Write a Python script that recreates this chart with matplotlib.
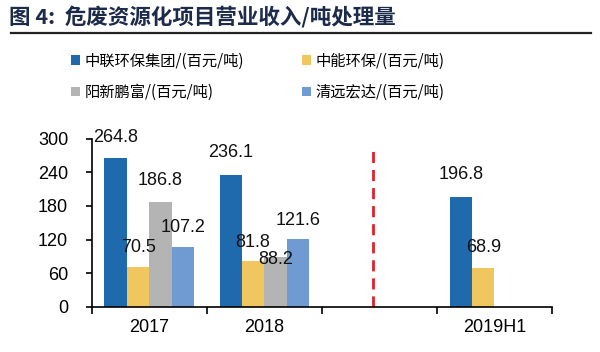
import numpy as np
import matplotlib
matplotlib.use("Agg")
import matplotlib.pyplot as plt

plt.rcParams['font.family'] = ['Noto Sans CJK SC', 'DejaVu Sans']

# data
categories = ['2017', '2018', '', '2019H1']
zhonglian = [264.8, 236.1, np.nan, 196.8]   # 中联环保集团
zhongneng = [70.5, 81.8, np.nan, 68.9]      # 中能环保
yangxin = [186.8, 88.2, np.nan, np.nan]     # 阳新鹏富
qingyuan = [107.2, 121.6, np.nan, np.nan]   # 清远宏达
series_names = ['中联环保集团/(百元/吨)', '中能环保/(百元/吨)',
                '阳新鹏富/(百元/吨)', '清远宏达/(百元/吨)']
yticks = [0, 60, 120, 180, 240, 300]

colors = ['#1f69ad', '#f0c75e', '#b4b4b4', '#6f9bd2']
# vertical label offsets in pixels so the numbers sit like the original
label_dy = [
    [21, 22, None, 22],
    [20, 19, None, 21],
    [22, -2, None, None],
    [19, 18, None, None],
]
num_font = 'Liberation Sans'

fig = plt.figure(figsize=(6, 3.52), dpi=100)
ax = fig.add_axes([0.153, 0.128, 0.767, 0.478])

x = np.arange(len(categories))
width = 0.195
all_series = [zhonglian, zhongneng, yangxin, qingyuan]
for i, vals in enumerate(all_series):
    pos = x + (i - 1.5) * width
    ax.bar(pos, vals, width, color=colors[i], label=series_names[i])
    for j, v in enumerate(vals):
        if np.isnan(v):
            continue
        ax.annotate(f'{v:.1f}', (pos[j], v), xytext=(0, label_dy[i][j] * 0.72),
                    textcoords='offset points', ha='center', va='center',
                    fontsize=13, family=num_font, color='#111111')

# red dashed divider
ax.plot([1.94, 1.94], [0, 284], color='#e0202a', linestyle=(0, (4, 2.5)),
        linewidth=2)

ax.set_xlim(-0.5, 3.5)
ax.set_ylim(0, 300)
ax.set_yticks(yticks)
ax.set_yticklabels([str(t) for t in yticks], fontsize=13, family=num_font)
ax.set_xticks(x)
ax.set_xticklabels(categories, fontsize=13, family=num_font)
ax.set_xticks(np.arange(-0.5, 4.0, 1.0), minor=True)
ax.tick_params(axis='x', which='major', length=0, pad=9)
ax.tick_params(axis='x', which='minor', length=5, width=1.2, direction='out')
ax.tick_params(axis='y', length=4, width=1.2, direction='out', pad=13)
for s in ['top', 'right']:
    ax.spines[s].set_visible(False)
ax.spines['left'].set_linewidth(1.2)
ax.spines['bottom'].set_linewidth(1.2)

# legend in two columns
handles, labels = ax.get_legend_handles_labels()
order = [0, 2, 1, 3]
fig.legend([handles[k] for k in order], [labels[k] for k in order],
           ncol=2, loc='upper left', bbox_to_anchor=(0.095, 0.89),
           frameon=False, fontsize=11, handlelength=0.6, handleheight=0.6,
           handletextpad=0.3, columnspacing=3.8, labelspacing=0.95)

# title and rule underneath
fig.text(0.015, 0.952, '图 4:  危废资源化项目营业收入/吨处理量', fontsize=15.5,
         fontweight='heavy', color='#1c2b4a', va='center')
fig.add_artist(plt.Line2D([0.018, 0.985], [0.907, 0.907], color='#222222',
                          linewidth=1.6))

plt.savefig('out.png', dpi=100)
